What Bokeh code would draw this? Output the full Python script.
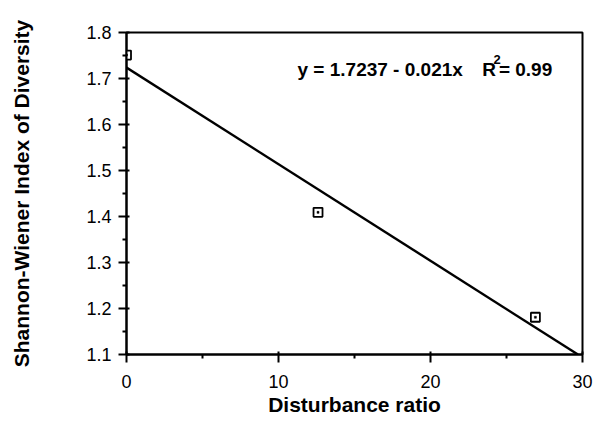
from bokeh.plotting import figure
from bokeh.models import Range1d, FixedTicker, Label
from bokeh.embed import file_html
from bokeh.resources import INLINE

# data
disturbance = [0.0, 12.6, 26.9]
diversity = [1.751, 1.409, 1.181]
intercept = 1.7237
slope = -0.021
fit_x = [0.0, 29.7]
fit_y = [intercept + slope * v for v in fit_x]
x_ticks = [0, 10, 20, 30]
y_ticks = [1.1, 1.2, 1.3, 1.4, 1.5, 1.6, 1.7, 1.8]

FONT = "Liberation Sans"

p = figure(width=598, height=424, output_backend="svg", toolbar_location=None,
           x_range=Range1d(0, 30), y_range=Range1d(1.1, 1.8),
           min_border_left=126, min_border_right=16, min_border_top=32,
           min_border_bottom=70)
p.grid.visible = False
p.background_fill_color = "white"
p.border_fill_color = "white"
p.outline_line_color = "black"
p.outline_line_width = 2

for ax in (p.xaxis[0], p.yaxis[0]):
    ax.axis_line_width = 2
    ax.axis_line_color = "black"
    ax.major_tick_line_width = 2
    ax.minor_tick_line_width = 2
    ax.major_tick_out = 8
    ax.major_tick_in = 3
    ax.minor_tick_out = 4
    ax.minor_tick_in = 0
    ax.major_label_text_font = FONT
    ax.major_label_text_font_size = "18px"
    ax.major_label_text_color = "black"
    ax.axis_label_text_font = FONT
    ax.axis_label_text_font_size = "21px"
    ax.axis_label_text_font_style = "bold"
    ax.axis_label_text_color = "black"

p.xaxis.ticker = FixedTicker(ticks=x_ticks, minor_ticks=[5, 15, 25])
p.yaxis.ticker = FixedTicker(ticks=y_ticks,
                             minor_ticks=[1.15, 1.25, 1.35, 1.45, 1.55, 1.65, 1.75])
p.xaxis.axis_label = "Disturbance ratio"
p.yaxis.axis_label = "Shannon-Wiener Index of Diversity"
p.xaxis.major_label_standoff = 12
p.xaxis.axis_label_standoff = 2
p.yaxis.major_label_standoff = 7
p.yaxis.axis_label_standoff = 50
try:
    p.yaxis[0].axis_label_align = "left"
except Exception:
    pass

p.line(fit_x, fit_y, line_color="black", line_width=2.4)
p.scatter(disturbance, diversity, marker="square", size=9, fill_color="white",
          line_color="black", line_width=1.8)
p.scatter(disturbance, diversity, marker="square", size=2, fill_color="black",
          line_color="black", line_width=0.5)

def lab(x, y, t, size):
    return Label(x=x, y=y, text=t, text_font=FONT, text_font_size=size,
                 text_font_style="bold", text_color="black",
                 text_baseline="alphabetic", text_align="left")

p.add_layout(lab(11.25, 1.7196, "y = 1.7237 - 0.021x", "19px"))
p.add_layout(lab(23.4, 1.7196, "R", "19px"))
p.add_layout(lab(24.15, 1.741, "2", "13px"))
p.add_layout(lab(24.5, 1.7196, "= 0.99", "19px"))

open("out.html", "w").write(file_html(p, INLINE))
